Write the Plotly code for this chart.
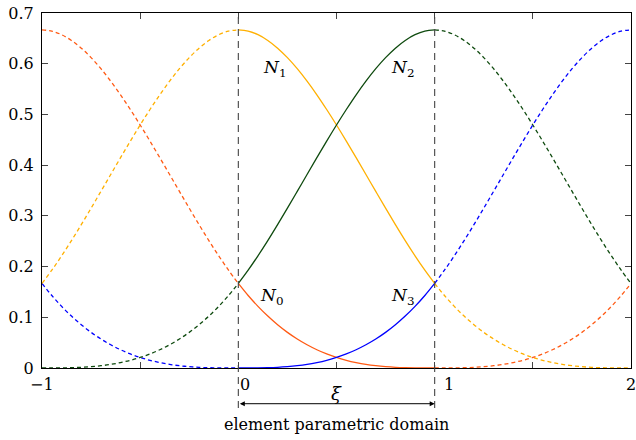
import plotly.graph_objects as go

# Local parameter samples on one knot span
t_local = [0.00, 0.05, 0.10, 0.15, 0.20, 0.25, 0.30, 0.35, 0.40, 0.45, 0.50,
           0.55, 0.60, 0.65, 0.70, 0.75, 0.80, 0.85, 0.90, 0.95, 1.00]

# Uniform cubic B-spline pieces on a single span
piece_fall = [0.1667, 0.1429, 0.1215, 0.1024, 0.0853, 0.0703, 0.0572, 0.0458,
              0.0360, 0.0277, 0.0208, 0.0152, 0.0107, 0.0071, 0.0045, 0.0026,
              0.0013, 0.0006, 0.0002, 0.0000, 0.0000]
piece_peak_left = [0.6667, 0.6642, 0.6572, 0.6459, 0.6307, 0.6120, 0.5902,
                   0.5656, 0.5387, 0.5097, 0.4792, 0.4474, 0.4147, 0.3815,
                   0.3482, 0.3151, 0.2827, 0.2512, 0.2212, 0.1929, 0.1667]
piece_peak_right = [0.1667, 0.1929, 0.2212, 0.2512, 0.2827, 0.3151, 0.3482,
                    0.3815, 0.4147, 0.4474, 0.4792, 0.5097, 0.5387, 0.5656,
                    0.5902, 0.6120, 0.6307, 0.6459, 0.6572, 0.6642, 0.6667]
piece_rise = [0.0000, 0.0000, 0.0002, 0.0006, 0.0013, 0.0026, 0.0045, 0.0071,
              0.0107, 0.0152, 0.0208, 0.0277, 0.0360, 0.0458, 0.0572, 0.0703,
              0.0853, 0.1024, 0.1215, 0.1429, 0.1667]

pieces = [piece_fall, piece_peak_left, piece_peak_right, piece_rise]

# Knot spans shown; the span starting at 0 is the element itself
span_starts = [-1, 0, 1]

# Colours of N0..N3 (cycling for neighbouring basis functions)
basis_colors = ["#FF5A14", "#FFB000", "#0E4A0E", "#0000FF"]

x_tick_vals = [-1, 0, 1, 2]
x_tick_text = ["\u22121", "0", "1", "2"]
y_tick_vals = [0, 0.1, 0.2, 0.3, 0.4, 0.5, 0.6, 0.7]
y_tick_text = ["0", "0.1", "0.2", "0.3", "0.4", "0.5", "0.6", "0.7"]

basis_labels = ["N", "N", "N", "N"]
label_x = [0.17, 0.185, 0.836, 0.836]
label_y = [0.141, 0.590, 0.590, 0.141]

FONT = "DejaVu Serif"

fig = go.Figure()

for solid_pass in (False, True):
    for start in span_starts:
        is_element = (start == 0)
        if is_element != solid_pass:
            continue
        for j, piece in enumerate(pieces):
            color = basis_colors[(j + start) % 4]
            fig.add_trace(go.Scatter(
                x=[start + t for t in t_local],
                y=piece,
                mode="lines",
                line=dict(color=color, width=1.3,
                          dash="solid" if is_element else "4px,3px",
                          shape="spline"),
                hoverinfo="skip",
                showlegend=False,
            ))

# Element boundaries
for xb in (0, 1):
    fig.add_shape(type="line", xref="x", yref="paper",
                  x0=xb, x1=xb, y0=-0.113, y1=1,
                  line=dict(color="#444444", width=1.1, dash="7px,5px"))

annotations = []
# Double arrow spanning the element
annotations.append(dict(
    x=1, y=-0.1006, ax=0, ay=0,
    xref="x", yref="paper", axref="x", ayref="pixel",
    text="", showarrow=True, arrowhead=2, startarrowhead=2,
    arrowside="end+start", arrowsize=1, startarrowsize=1,
    arrowwidth=1, arrowcolor="black", standoff=0, startstandoff=0,
))
annotations.append(dict(
    x=0.5, y=-0.071, xref="x", yref="paper", showarrow=False,
    text="<i>\u03be</i>", font=dict(family=FONT, size=18, color="black"),
    xanchor="center", yanchor="middle",
))
annotations.append(dict(
    x=0.5, y=-0.159, xref="x", yref="paper", showarrow=False,
    text="element parametric domain",
    font=dict(family=FONT, size=16, color="black"),
    xanchor="center", yanchor="middle",
))

# x tick labels (0 and 1 nudged clear of the dashed boundaries)
x_shift = [0, 7, 14, 0]
for v, txt, sh in zip(x_tick_vals, x_tick_text, x_shift):
    annotations.append(dict(
        x=v, y=-0.013, xref="x", yref="paper", showarrow=False,
        text=txt, xshift=sh, font=dict(family=FONT, size=16, color="black"),
        xanchor="center", yanchor="top",
    ))

for i, (name, lx, ly) in enumerate(zip(basis_labels, label_x, label_y)):
    annotations.append(dict(
        x=lx, y=ly, xref="x", yref="y", showarrow=False,
        text=f"<i>{name}</i><sub>{i}</sub>",
        font=dict(family=FONT, size=17, color="black"),
        xanchor="center", yanchor="middle",
    ))

fig.update_layout(
    width=636, height=440,
    margin=dict(l=42, r=4, t=10, b=72),
    paper_bgcolor="white", plot_bgcolor="white",
    font=dict(family=FONT, size=16, color="black"),
    annotations=annotations,
    showlegend=False,
)
fig.update_xaxes(
    range=[-1, 2], dtick=0.5, tick0=-1,
    showgrid=False, zeroline=False,
    showline=True, linecolor="black", linewidth=1, mirror="ticks",
    ticks="inside", ticklen=6, tickcolor="#444444",
    showticklabels=False,
)
fig.update_yaxes(
    range=[0, 0.7], tickvals=y_tick_vals, ticktext=y_tick_text,
    showgrid=False, zeroline=False,
    showline=True, linecolor="black", linewidth=1, mirror="ticks",
    ticks="inside", ticklen=6, tickcolor="#444444",
    tickfont=dict(family=FONT, size=16, color="black"),
    ticklabelstandoff=4,
)

fig.write_html("out.html")
